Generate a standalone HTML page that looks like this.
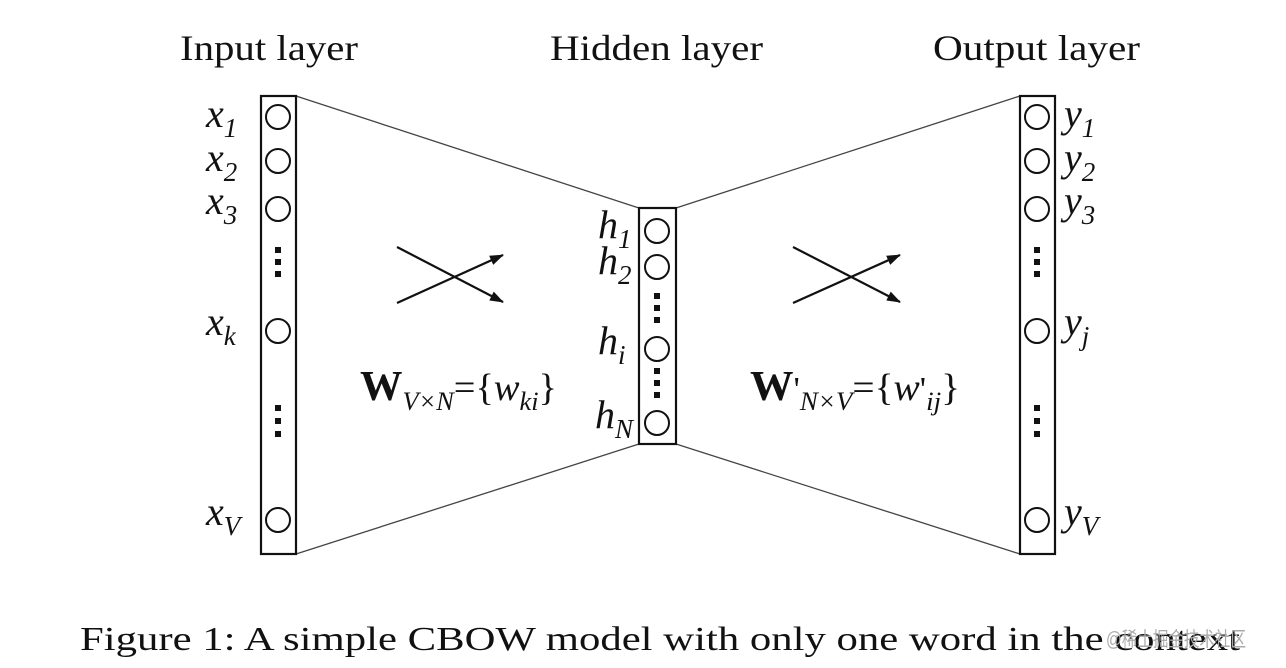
<!DOCTYPE html>
<html><head><meta charset="utf-8"><style>
html,body{margin:0;padding:0;background:#fff;}
svg{display:block;}
text{font-family:"Liberation Serif",serif;fill:#111;}
.it{font-style:italic;}
</style></head><body>
<svg width="1286" height="668" viewBox="0 0 1286 668" xmlns="http://www.w3.org/2000/svg">
<defs>
<marker id="ah" markerWidth="14" markerHeight="10" refX="13" refY="5" orient="auto" markerUnits="userSpaceOnUse">
<path d="M0,0 L14,5 L0,10 z" fill="#111"/>
</marker>
</defs>
<text x="180" y="60" font-size="36" textLength="178" lengthAdjust="spacingAndGlyphs">Input layer</text>
<text x="550" y="60" font-size="36" textLength="213" lengthAdjust="spacingAndGlyphs">Hidden layer</text>
<text x="933" y="60" font-size="36" textLength="207" lengthAdjust="spacingAndGlyphs">Output layer</text>

<g stroke="#444" stroke-width="1.3">
<line x1="296" y1="96" x2="639" y2="208"/>
<line x1="296" y1="554" x2="639" y2="444"/>
<line x1="676" y1="208" x2="1020" y2="96"/>
<line x1="676" y1="444" x2="1020" y2="554"/>
</g>

<g fill="none" stroke="#111" stroke-width="2.2">
<rect x="261" y="96" width="35" height="458"/>
<rect x="639" y="208" width="37" height="236"/>
<rect x="1020" y="96" width="35" height="458"/>
</g>
<g fill="none" stroke="#111" stroke-width="2">
<circle cx="278" cy="117" r="12"/><circle cx="278" cy="161" r="12"/><circle cx="278" cy="209" r="12"/><circle cx="278" cy="331" r="12"/><circle cx="278" cy="520" r="12"/>
<circle cx="657" cy="231" r="12"/><circle cx="657" cy="267" r="12"/><circle cx="657" cy="349" r="12"/><circle cx="657" cy="423" r="12"/>
<circle cx="1037" cy="117" r="12"/><circle cx="1037" cy="161" r="12"/><circle cx="1037" cy="209" r="12"/><circle cx="1037" cy="331" r="12"/><circle cx="1037" cy="520" r="12"/>
</g>
<g fill="#111">
<rect x="275" y="247" width="6" height="6"/><rect x="275" y="259" width="6" height="6"/><rect x="275" y="271" width="6" height="6"/>
<rect x="275" y="405" width="6" height="6"/><rect x="275" y="418" width="6" height="6"/><rect x="275" y="431" width="6" height="6"/>
<rect x="1034" y="247" width="6" height="6"/><rect x="1034" y="259" width="6" height="6"/><rect x="1034" y="271" width="6" height="6"/>
<rect x="1034" y="405" width="6" height="6"/><rect x="1034" y="418" width="6" height="6"/><rect x="1034" y="431" width="6" height="6"/>
<rect x="654" y="293" width="6" height="6"/><rect x="654" y="305" width="6" height="6"/><rect x="654" y="317" width="6" height="6"/>
<rect x="654" y="368" width="6" height="6"/><rect x="654" y="380" width="6" height="6"/><rect x="654" y="392" width="6" height="6"/>
</g>
<g stroke="#111" stroke-width="2.2" marker-end="url(#ah)">
<line x1="397" y1="247" x2="503" y2="302"/>
<line x1="397" y1="303" x2="503" y2="255"/>
<line x1="793" y1="247" x2="900" y2="302"/>
<line x1="793" y1="303" x2="900" y2="255"/>
</g>

<g font-size="40" class="it">
<text x="206" y="127">x<tspan font-size="27" dy="10">1</tspan></text>
<text x="206" y="171">x<tspan font-size="27" dy="10">2</tspan></text>
<text x="206" y="214">x<tspan font-size="27" dy="10">3</tspan></text>
<text x="206" y="335">x<tspan font-size="27" dy="10">k</tspan></text>
<text x="206" y="525">x<tspan font-size="27" dy="10">V</tspan></text>

<text x="1064" y="127">y<tspan font-size="27" dy="10">1</tspan></text>
<text x="1064" y="171">y<tspan font-size="27" dy="10">2</tspan></text>
<text x="1064" y="214">y<tspan font-size="27" dy="10">3</tspan></text>
<text x="1064" y="335">y<tspan font-size="27" dy="10">j</tspan></text>
<text x="1064" y="525">y<tspan font-size="27" dy="10">V</tspan></text>

<text x="598" y="238">h<tspan font-size="27" dy="10">1</tspan></text>
<text x="598" y="274">h<tspan font-size="27" dy="10">2</tspan></text>
<text x="598" y="354">h<tspan font-size="27" dy="10">i</tspan></text>
<text x="595" y="428">h<tspan font-size="27" dy="10">N</tspan></text>
</g>

<text x="360" y="400" font-size="42" textLength="197" lengthAdjust="spacingAndGlyphs"><tspan font-weight="bold">W</tspan><tspan font-size="26" font-style="italic" dy="10">V×N</tspan><tspan dy="-10" font-size="38">={</tspan><tspan font-size="38" font-style="italic">w</tspan><tspan font-size="26" font-style="italic" dy="10">ki</tspan><tspan dy="-10" font-size="38">}</tspan></text>
<text x="750" y="400" font-size="42" textLength="210" lengthAdjust="spacingAndGlyphs"><tspan font-weight="bold">W</tspan><tspan font-size="34">'</tspan><tspan font-size="26" font-style="italic" dy="10">N×V</tspan><tspan dy="-10" font-size="38">={</tspan><tspan font-size="38" font-style="italic">w</tspan><tspan font-size="34">'</tspan><tspan font-size="26" font-style="italic" dy="10">ij</tspan><tspan dy="-10" font-size="38">}</tspan></text>

<text x="80" y="650" font-size="34" textLength="1160" lengthAdjust="spacingAndGlyphs">Figure 1: A simple CBOW model with only one word in the context</text>
<text x="1106" y="646" font-size="20" style="fill:#aaa;font-family:'Liberation Sans','Noto Sans CJK SC',sans-serif" textLength="140" lengthAdjust="spacingAndGlyphs">@稀土掘金技术社区</text>
</svg>
</body></html>
